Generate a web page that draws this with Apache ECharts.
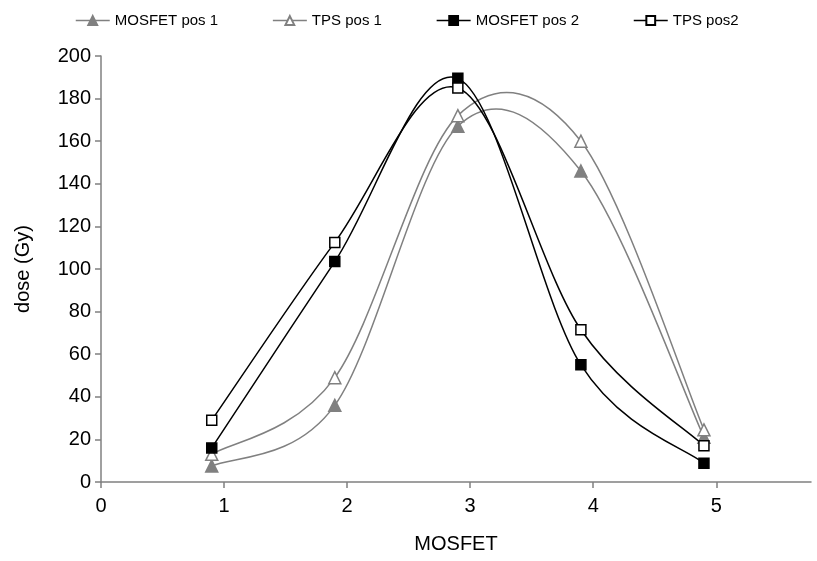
<!DOCTYPE html>
<html>
<head>
<meta charset="utf-8">
<script src="https://cdn.jsdelivr.net/npm/echarts@6/dist/echarts.min.js"></script>
<style>
  html, body { margin: 0; padding: 0; background: #fff; }
  #chart { width: 817px; height: 561px; }
</style>
</head>
<body>
<div id="chart"></div>
<script>
// positions along the x axis where readings were taken
const xPos = [0.9, 1.9, 2.9, 3.9, 4.9];
// dose values (Gy)
const mosfetPos1 = [7.5, 36, 167, 146, 21];
const tpsPos1 = [13, 49, 172, 160, 24.5];
const mosfetPos2 = [16, 103.5, 189.5, 55, 8.8];
const tpsPos2 = [29, 112.5, 185, 71.5, 17];
const yTicks = [0, 20, 40, 60, 80, 100, 120, 140, 160, 180, 200];

const GRAY = '#808080';
const BLACK = '#000000';
const font = "'Liberation Sans', Arial, sans-serif";

const pairs = vals => xPos.map((x, i) => [x, vals[i]]);

// markers only, the line itself is drawn by the curve series below
function markerSeries(name, vals, color, symbol, size, fill) {
  return {
    name: name,
    type: 'line',
    data: pairs(vals),
    symbol: symbol,
    symbolSize: size,
    showSymbol: true,
    lineStyle: { color: color, width: 1.5, opacity: 0 },
    itemStyle: { color: fill, borderColor: color, borderWidth: 1.5 },
    emphasis: { disabled: true },
    z: 3
  };
}

// excel style smoothed line (cardinal spline, tension 1/6) through the points
function curveSeries(name, vals, color) {
  return {
    name: name,
    type: 'custom',
    coordinateSystem: 'cartesian2d',
    data: pairs(vals),
    encode: { x: 0, y: 1 },
    silent: true,
    z: 2,
    renderItem: function (params, api) {
      const i = params.dataIndex;
      const n = vals.length;
      if (i >= n - 1) return null;
      const p = k => api.coord([xPos[Math.max(0, Math.min(n - 1, k))], vals[Math.max(0, Math.min(n - 1, k))]]);
      const p0 = p(i - 1), p1 = p(i), p2 = p(i + 1), p3 = p(i + 2);
      return {
        type: 'bezierCurve',
        shape: {
          x1: p1[0], y1: p1[1],
          x2: p2[0], y2: p2[1],
          cpx1: p1[0] + (p2[0] - p0[0]) / 6,
          cpy1: p1[1] + (p2[1] - p0[1]) / 6,
          cpx2: p2[0] - (p3[0] - p1[0]) / 6,
          cpy2: p2[1] - (p3[1] - p1[1]) / 6
        },
        style: { stroke: color, lineWidth: 1.5, fill: null }
      };
    }
  };
}

const chart = echarts.init(document.getElementById('chart'), null, { renderer: 'canvas' });

const legendFont = { fontFamily: font, fontSize: 15, color: '#000' };

const option = {
  animation: false,
  backgroundColor: '#fff',
  legend: {
    top: 8,
    left: 70,
    itemWidth: 34,
    itemHeight: 11,
    itemGap: 54,
    textStyle: legendFont,
    data: [
      { name: 'MOSFET pos 1', lineStyle: { color: GRAY, width: 1.5, opacity: 1 } },
      { name: 'TPS pos 1', lineStyle: { color: GRAY, width: 1.5, opacity: 1 } },
      { name: 'MOSFET pos 2', lineStyle: { color: BLACK, width: 1.5, opacity: 1 } },
      { name: 'TPS pos2', lineStyle: { color: BLACK, width: 1.5, opacity: 1 } }
    ]
  },
  grid: { left: 101, top: 56, right: 6, bottom: 79, containLabel: false },
  xAxis: {
    type: 'value',
    min: 0,
    max: 5.77,
    interval: 1,
    name: 'MOSFET',
    nameLocation: 'middle',
    nameGap: 52,
    nameTextStyle: { fontFamily: font, fontSize: 20, color: '#000' },
    axisLine: { show: true, lineStyle: { color: GRAY, width: 1.5 } },
    axisTick: { show: true, inside: false, length: 6, lineStyle: { color: GRAY, width: 1.5 } },
    axisLabel: { showMaxLabel: false, margin: 14, fontFamily: font, fontSize: 20, color: '#000' },
    splitLine: { show: false }
  },
  yAxis: {
    type: 'value',
    min: yTicks[0],
    max: yTicks[yTicks.length - 1],
    interval: yTicks[1] - yTicks[0],
    name: 'dose (Gy)',
    nameLocation: 'middle',
    nameGap: 68,
    nameTextStyle: { fontFamily: font, fontSize: 20, color: '#000' },
    axisLine: { show: true, lineStyle: { color: GRAY, width: 1.5 } },
    axisTick: { show: true, inside: false, length: 6, lineStyle: { color: GRAY, width: 1.5 } },
    axisLabel: { margin: 10, fontFamily: font, fontSize: 20, color: '#000' },
    splitLine: { show: false }
  },
  series: [
    markerSeries('MOSFET pos 1', mosfetPos1, GRAY, 'triangle', 12, GRAY),
    markerSeries('TPS pos 1', tpsPos1, GRAY, 'triangle', 12, '#fff'),
    markerSeries('MOSFET pos 2', mosfetPos2, BLACK, 'rect', 10, BLACK),
    markerSeries('TPS pos2', tpsPos2, BLACK, 'rect', 10, '#fff'),
    curveSeries('MOSFET pos 1', mosfetPos1, GRAY),
    curveSeries('TPS pos 1', tpsPos1, GRAY),
    curveSeries('MOSFET pos 2', mosfetPos2, BLACK),
    curveSeries('TPS pos2', tpsPos2, BLACK)
  ]
};

chart.setOption(option);
</script>
</body>
</html>
